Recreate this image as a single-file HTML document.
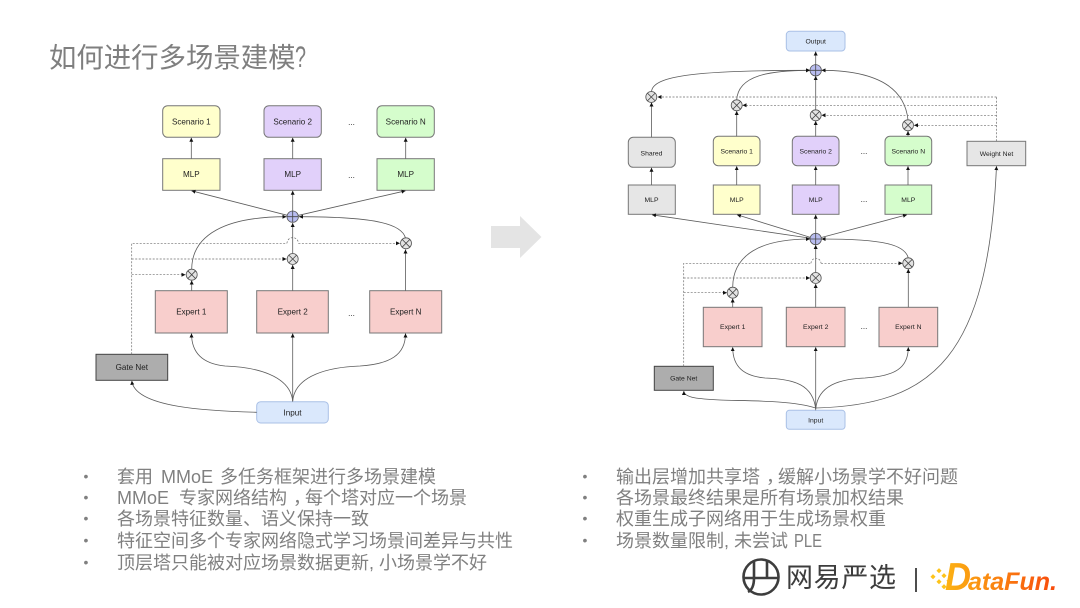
<!DOCTYPE html>
<html><head><meta charset="utf-8"><style>
html,body{margin:0;padding:0;background:#fff;width:1080px;height:608px;overflow:hidden}
svg{display:block}
.c{font-family:"Liberation Sans","Noto Sans CJK SC",sans-serif}
.t{font-family:"Liberation Sans",sans-serif;fill:#222;text-anchor:middle}
.l{font-size:8.1px}.r{font-size:6.8px}
.b{font-family:"Liberation Sans","Noto Sans CJK SC",sans-serif;font-size:18px;fill:#808080}
.n{stroke:#777;stroke-width:1}
.w{fill:none;stroke:#5c5c5c;stroke-width:.8;marker-end:url(#a)}
.d{fill:none;stroke:#6e6e6e;stroke-width:.7;stroke-dasharray:2 1.5}
.da{marker-end:url(#a)}
.bl{filter:blur(.3px)}
</style></head><body>
<svg width="1080" height="608" viewBox="0 0 1080 608" xmlns="http://www.w3.org/2000/svg">
<defs>
<marker id="a" markerUnits="userSpaceOnUse" markerWidth="5" markerHeight="5" refX="4" refY="2" orient="auto"><path d="M0 0L4 2L0 4Z" fill="#111"/></marker>
<linearGradient id="g" gradientUnits="userSpaceOnUse" x1="935" x2="1058" y1="0" y2="0"><stop offset="0" stop-color="#fcbc14"/><stop offset="1" stop-color="#f8480c"/></linearGradient>
<g id="x"><circle r="5.5" fill="#e3e3e3" stroke="#555" stroke-width=".8"/><path d="M-3.9-3.9L3.9 3.9M-3.9 3.9L3.9-3.9" stroke="#444" stroke-width=".8"/></g>
<g id="p"><circle r="5.7" fill="#b9bdf0" stroke="#555" stroke-width=".8"/><path d="M-5.7 0H5.7M0-5.7V5.7" stroke="#444" stroke-width=".8"/></g>
</defs>

<text class="c" x="49" y="67" font-size="27.4" fill="#7f7f7f">如何进行多场景建模</text>
<text class="c" x="295" y="67" font-size="30" fill="#7f7f7f" textLength="11" lengthAdjust="spacingAndGlyphs">?</text>

<g class="bl">
<!-- LEFT -->
<g class="n">
<rect x="162.7" y="105.7" width="57.3" height="31.6" rx="5" fill="#ffffcc"/>
<rect x="264" y="105.7" width="57.3" height="31.6" rx="5" fill="#e1d0fa"/>
<rect x="377" y="105.7" width="57.3" height="31.6" rx="5" fill="#d5fdcc"/>
<rect x="162.7" y="158.7" width="57.3" height="31.6" fill="#ffffcc"/>
<rect x="264" y="158.7" width="57.3" height="31.6" fill="#e1d0fa"/>
<rect x="377" y="158.7" width="57.3" height="31.6" fill="#d5fdcc"/>
<rect x="155.3" y="290.7" width="72" height="42.3" fill="#f8cecc"/>
<rect x="256.7" y="290.7" width="71.6" height="42.3" fill="#f8cecc"/>
<rect x="369.7" y="290.7" width="72" height="42.3" fill="#f8cecc"/>
<rect x="96" y="354.3" width="71.7" height="26" fill="#adadad" stroke="#444"/>
<rect x="256.7" y="401.7" width="71.6" height="21.3" rx="4" fill="#dae8fc" stroke="#a9c0e6"/>
</g>
<path class="w" d="M191.3 158.7V137.8"/><path class="w" d="M292.7 158.7V137.8"/><path class="w" d="M405.7 158.7V137.8"/>
<path class="w" d="M292.7 211V190.8"/><path class="w" d="M292.7 216.7L191.5 190.8"/><path class="w" d="M292.7 216.7L405.5 190.8"/>
<path class="w" d="M191.7 269C192 235 225 216.7 286.5 216.7"/>
<path class="w" d="M405.5 238C402 225 380 216.7 299 216.7"/>
<path class="w" d="M292.7 253.5V223"/>
<path class="w" d="M191.7 290.7V280.5"/><path class="w" d="M292.7 290.7V265"/><path class="w" d="M405.5 290.7V249.5"/>
<path class="d" d="M131.7 354.3V243.3H287"/><path class="d da" d="M131.7 259H286.500"/><path class="d da" d="M131.7 274.7H185.5"/>
<path class="d" d="M287 243.3a5.7 5.7 0 0 1 11.4 0"/>
<path class="d da" d="M298.4 243.3H400"/>
<path class="w" d="M292.7 401.7V333.5"/>
<path class="w" d="M292.7 401C290 375 255 367 225 366C205 364 191.5 355 191.5 333.5"/>
<path class="w" d="M292.7 401C295 375 330 367 360 366C390 364 405.5 355 405.5 333.5"/>
<path class="w" d="M256.7 412.3C210 411 135 408 131.8 380.8"/>
<use href="#p" x="292.7" y="216.7"/><use href="#x" x="406" y="243.3"/><use href="#x" x="292.7" y="259"/><use href="#x" x="191.7" y="274.7"/>
<g class="t l">
<text x="191.3" y="124.5">Scenario 1</text><text x="292.7" y="124.5">Scenario 2</text><text x="405.7" y="124.5">Scenario N</text>
<text x="191.3" y="177">MLP</text><text x="292.7" y="177">MLP</text><text x="405.7" y="177">MLP</text>
<text x="191.3" y="314.5">Expert 1</text><text x="292.7" y="314.5">Expert 2</text><text x="405.7" y="314.5">Expert N</text>
<text x="131.8" y="370">Gate Net</text><text x="292.5" y="415.5">Input</text>
<text x="351.5" y="125">...</text><text x="351.5" y="178">...</text><text x="351.5" y="316">...</text>
</g>

<!-- ARROW -->
<path d="M491 226H520V216L541.500 237L520 258V248H491Z" fill="#e4e4e4"/>

<!-- RIGHT -->
<g class="n">
<rect x="786.3" y="31.3" width="58.7" height="19.700" rx="3.500" fill="#dae8fc" stroke="#a9c0e6"/>
<rect x="628.3" y="137.3" width="47" height="30" rx="5" fill="#e6e6e6"/>
<rect x="713.3" y="136.3" width="46.7" height="29.4" rx="5" fill="#ffffcc"/>
<rect x="792.3" y="136.3" width="46.7" height="29.4" rx="5" fill="#e1d0fa"/>
<rect x="885" y="136.3" width="46.7" height="29.4" rx="5" fill="#d5fdcc"/>
<rect x="967" y="141.3" width="58.7" height="24.4" fill="#e6e6e6"/>
<rect x="628.3" y="185" width="47" height="29.3" fill="#e6e6e6"/>
<rect x="713.3" y="185" width="46.7" height="29.3" fill="#ffffcc"/>
<rect x="792.3" y="185" width="46.7" height="29.3" fill="#e1d0fa"/>
<rect x="885" y="185" width="46.7" height="29.3" fill="#d5fdcc"/>
<rect x="703.3" y="307.3" width="58.700" height="39.4" fill="#f8cecc"/>
<rect x="786.3" y="307.3" width="58.700" height="39.4" fill="#f8cecc"/>
<rect x="879" y="307.3" width="58.700" height="39.4" fill="#f8cecc"/>
<rect x="654.3" y="366.3" width="59" height="24" fill="#adadad" stroke="#444"/>
<rect x="786.3" y="410.3" width="58.7" height="19" rx="3" fill="#dae8fc" stroke="#a9c0e6"/>
</g>
<path class="w" d="M815.7 65V51.500"/>
<path class="w" d="M651.500 92C652 75 700 70.500 810 70.300"/>
<path class="w" d="M736.700 100C738 75 770 70.500 810 70.300"/>
<path class="w" d="M908 120C905 90 880 70.500 821.500 70.300"/>
<path class="w" d="M815.700 110V76"/>
<path class="w" d="M651.500 137.300V102.500"/><path class="w" d="M736.700 136.300V111"/><path class="w" d="M815.700 136.300V121"/><path class="w" d="M908 136.300V131"/>
<path class="w" d="M651.500 185V167.800"/><path class="w" d="M736.700 185V166.200"/><path class="w" d="M815.700 185V166.200"/><path class="w" d="M908 185V166.200"/>
<path class="d" d="M996.500 141.300V97"/>
<path class="d da" d="M996.500 97H657.500"/><path class="d da" d="M996.500 105.300H742.500"/><path class="d da" d="M996.500 115.300H821.500"/><path class="d da" d="M996.500 125.300H914"/>
<path class="w" d="M815.700 233.500V214.800"/>
<path class="w" d="M815.700 239L652 214.800"/><path class="w" d="M815.700 239L737 214.800"/><path class="w" d="M815.700 239L907 214.800"/>
<path class="w" d="M732.700 287C733 255 760 239 810 239"/>
<path class="w" d="M908.300 258C905 245 885 239 821.500 239"/>
<path class="w" d="M815.700 272.500V245"/>
<path class="w" d="M732.700 307.300V298.500"/><path class="w" d="M815.700 307.300V284"/><path class="w" d="M908.300 307.300V269"/>
<path class="d" d="M683.700 366.300V263.300H811"/><path class="d da" d="M683.700 278H810"/><path class="d da" d="M683.700 292.700H727"/>
<path class="d" d="M811 263.300a5 5 0 0 1 10 0"/>
<path class="d da" d="M821 263.300H902.500"/>
<path class="w" d="M815.700 410.300V347.200"/>
<path class="w" d="M815.700 409C813 385 795 379 765 378C745 376 732.700 368 732.700 347.200"/>
<path class="w" d="M815.700 409C818 385 840 379 865 378C895 376 908.300 368 908.300 347.200"/>
<path class="w" d="M815.700 408C790 400 745 401 720 400C700 399 684 398 683.800 391"/>
<path class="w" d="M815.700 408C935 405 988 355 996.500 166.200"/>
<use href="#p" x="815.700" y="70.300"/><use href="#x" x="651.300" y="97"/><use href="#x" x="736.700" y="105.300"/><use href="#x" x="815.700" y="115.300"/><use href="#x" x="908" y="125.300"/>
<use href="#p" x="815.700" y="239"/><use href="#x" x="732.700" y="292.700"/><use href="#x" x="815.700" y="278"/><use href="#x" x="908.300" y="263.300"/>
<g class="t r">
<text x="815.700" y="43.500">Output</text>
<text x="651.500" y="155.300">Shared</text><text x="736.700" y="153.500">Scenario 1</text><text x="815.700" y="153.500">Scenario 2</text><text x="908.300" y="153.500">Scenario N</text><text x="996.500" y="156">Weight Net</text>
<text x="651.500" y="202">MLP</text><text x="736.700" y="202">MLP</text><text x="815.700" y="202">MLP</text><text x="908.300" y="202">MLP</text>
<text x="732.700" y="329">Expert 1</text><text x="815.700" y="329">Expert 2</text><text x="908.300" y="329">Expert N</text>
<text x="683.700" y="380.500">Gate Net</text><text x="815.700" y="422.500">Input</text>
<text x="864" y="154" font-size="8">...</text><text x="864" y="202" font-size="8">...</text><text x="864" y="329" font-size="8">...</text>
</g>
</g>

<!-- BULLETS -->
<g class="b">
<text x="83.500" y="481" font-size="14">•</text><text x="117" y="483">套用<tspan dx="3"> MMoE</tspan><tspan dx="2"> 多任务框架进行多场景建模</tspan></text>
<text x="83.500" y="502" font-size="14">•</text><text x="117" y="504">MMoE<tspan dx="5"> 专家网络结构</tspan><tspan dx="6">，</tspan><tspan dx="-6">每个塔对应一个场景</tspan></text>
<text x="83.500" y="523" font-size="14">•</text><text x="117" y="525">各场景特征数量、语义保持一致</text>
<text x="83.500" y="545" font-size="14">•</text><text x="117" y="547">特征空间多个专家网络隐式学习场景间差异与共性</text>
<text x="83.500" y="567" font-size="14">•</text><text x="117" y="569">顶层塔只能被对应场景数据更新, 小场景学不好</text>
<text x="582.500" y="481" font-size="14">•</text><text x="616" y="483">输出层增加共享塔<tspan dx="6">，</tspan><tspan dx="-6">缓解小场景学不好问题</tspan></text>
<text x="582.500" y="502" font-size="14">•</text><text x="616" y="504">各场景最终结果是所有场景加权结果</text>
<text x="582.500" y="523" font-size="14">•</text><text x="616" y="525">权重生成子网络用于生成场景权重</text>
<text x="582.500" y="545" font-size="14">•</text><text x="616" y="547">场景数量限制, 未尝试<tspan dx="1"> </tspan></text>
<text x="794" y="547" textLength="28" lengthAdjust="spacingAndGlyphs">PLE</text>
</g>

<!-- LOGOS -->
<g fill="none" stroke="#3d3d3d" stroke-width="2.600">
<circle cx="761" cy="577" r="17.500"/>
<path d="M744 578H778M754 560V578C754 586 752 590 748 592M767 560V578"/>
</g>
<text class="c" x="786" y="587" font-size="27" fill="#3d3d3d" textLength="110" font-weight="400">网易严选</text>
<rect x="915.200" y="568" width="1.600" height="24" fill="#222"/>
<g fill="#fdc31a">
<rect x="931" y="575" width="3.600" height="3.600" transform="rotate(45 933 577)"/>
<rect x="937" y="569" width="3.600" height="3.600" transform="rotate(45 939 571)"/>
<rect x="937" y="580" width="3.600" height="3.600" transform="rotate(45 939 582)"/>
<rect x="942" y="574" width="3.600" height="3.600" transform="rotate(45 944 576)"/>
<rect x="942" y="585" width="3.600" height="3.600" transform="rotate(45 944 587)"/>
<rect x="947" y="579" width="3.600" height="3.600" transform="rotate(45 949 581)"/>
</g>
<text class="c" x="945" y="590" font-size="39" font-weight="700" font-style="italic" fill="url(#g)" textLength="26" lengthAdjust="spacingAndGlyphs">D</text>
<text class="c" x="968" y="590" font-size="25" font-weight="700" font-style="italic" fill="url(#g)" textLength="89" lengthAdjust="spacingAndGlyphs">ataFun.</text>
</svg>
</body></html>
